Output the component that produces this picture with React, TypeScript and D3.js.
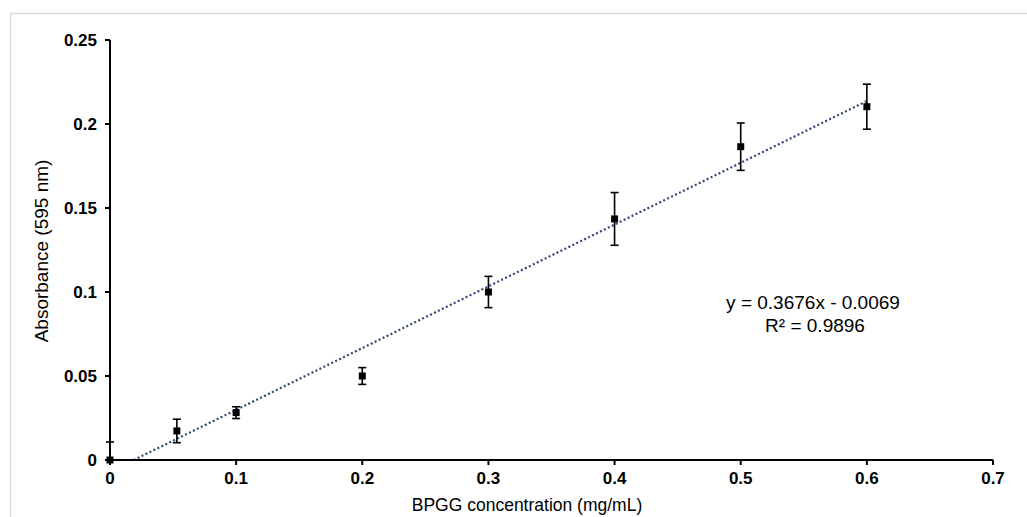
import React from "react";
import * as d3 from "d3";

const concentrations = [0, 0.053, 0.1, 0.2, 0.3, 0.4, 0.5, 0.6];
const absorbance = [0, 0.0173, 0.0282, 0.05, 0.1, 0.1435, 0.1865, 0.2103];
const errors = [0.0107, 0.007, 0.0035, 0.005, 0.0093, 0.0157, 0.0141, 0.0134];
const xTicks = [0, 0.1, 0.2, 0.3, 0.4, 0.5, 0.6, 0.7];
const yTicks = [0, 0.05, 0.1, 0.15, 0.2, 0.25];
const slope = 0.3676;
const intercept = -0.0069;
const equationText = "y = 0.3676x - 0.0069";
const r2Text = "R² = 0.9896";

const W = 1027;
const H = 517;
const m = { left: 110, right: 993, top: 40, bottom: 460 };

export default function App() {
  const x = d3.scaleLinear().domain([0, 0.7]).range([m.left, m.right]);
  const y = d3.scaleLinear().domain([0, 0.25]).range([m.bottom, m.top]);
  const font = "Liberation Sans, Arial, Helvetica, sans-serif";
  const x0 = -intercept / slope;
  const x1 = 0.6;
  const trend = d3.line<number>().x((d) => x(d)).y((d) => y(slope * d + intercept))([x0, x1]);
  const cap = 4;
  const ms = 7;
  return (
    <svg width={W} height={H} style={{ position: "absolute", left: 0, top: 0 }}>
      <rect x={0} y={0} width={W} height={H} fill="#fff" />
      <line x1={10} y1={13.5} x2={W} y2={13.5} stroke="#d9d9d9" strokeWidth={1.5} />
      <line x1={10.5} y1={13} x2={10.5} y2={H} stroke="#d9d9d9" strokeWidth={1.5} />
      {/* trendline */}
      <path d={trend || ""} fill="none" stroke="#2f4775" strokeWidth={2.2} strokeDasharray="2 2.4" />
      {/* error bars */}
      {concentrations.map((c, i) => {
        const cx = x(c);
        const top = y(absorbance[i] + errors[i]);
        const bot = y(Math.max(0, absorbance[i] - errors[i]));
        return (
          <g key={"e" + i} stroke="#000" strokeWidth={1.6}>
            <line x1={cx} x2={cx} y1={top} y2={bot} />
            <line x1={cx - cap} x2={cx + cap} y1={top} y2={top} />
            {absorbance[i] - errors[i] > 0 && <line x1={cx - cap} x2={cx + cap} y1={bot} y2={bot} />}
          </g>
        );
      })}
      {/* axes */}
      <line x1={m.left} x2={m.left} y1={y(0.25)} y2={y(0)} stroke="#000" strokeWidth={2} />
      <line x1={m.left} x2={x(0.7)} y1={y(0)} y2={y(0)} stroke="#000" strokeWidth={2} />
      {yTicks.map((t) => (
        <g key={"y" + t}>
          <line x1={m.left - 5} x2={m.left} y1={y(t)} y2={y(t)} stroke="#000" strokeWidth={2} />
          <text x={m.left - 13} y={y(t)} dy="0.35em" textAnchor="end" fontFamily={font} fontWeight="bold" fontSize={17} fill="#000">
            {String(t)}
          </text>
        </g>
      ))}
      {xTicks.map((t) => (
        <g key={"x" + t}>
          <line x1={x(t)} x2={x(t)} y1={y(0)} y2={y(0) + 5} stroke="#000" strokeWidth={2} />
          <text x={x(t)} y={y(0) + 24} textAnchor="middle" fontFamily={font} fontWeight="bold" fontSize={17} fill="#000">
            {String(t)}
          </text>
        </g>
      ))}
      {/* markers */}
      {concentrations.map((c, i) => (
        <rect key={"m" + i} x={x(c) - ms / 2} y={y(absorbance[i]) - ms / 2} width={ms} height={ms} fill="#000" />
      ))}
      {/* titles */}
      <text x={527} y={511} textAnchor="middle" fontFamily={font} fontSize={17.5} fill="#000">
        BPGG concentration (mg/mL)
      </text>
      <text transform={`translate(48,${251}) rotate(-90)`} textAnchor="middle" fontFamily={font} fontSize={19} fill="#000">
        Absorbance (595 nm)
      </text>
      <text x={813} y={309} textAnchor="middle" fontFamily={font} fontSize={19} fill="#000">
        {equationText}
      </text>
      <text x={815} y={332} textAnchor="middle" fontFamily={font} fontSize={19} fill="#000">
        {r2Text}
      </text>
    </svg>
  );
}
